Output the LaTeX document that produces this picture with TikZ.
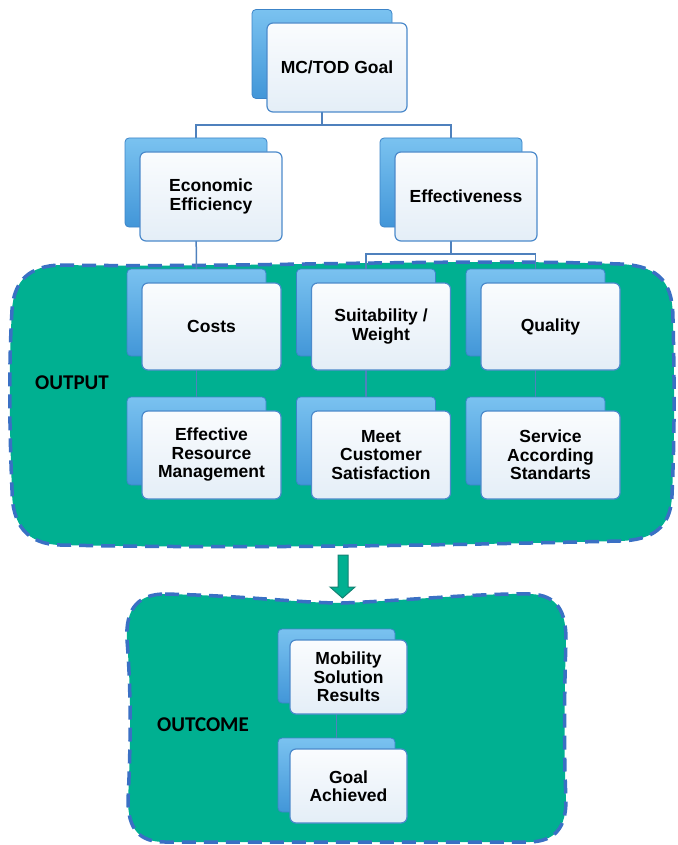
\documentclass[tikz,border=0pt]{standalone}
\usepackage{fontspec}
\setmainfont{Liberation Sans}
\newfontfamily\lblfont{Carlito}
\pgfdeclarelayer{blobs}
\pgfdeclarelayer{links}
\pgfsetlayers{blobs,links,main}
\definecolor{zonefill}{RGB}{0,176,145}
\definecolor{zoneedge}{RGB}{58,112,196}
\definecolor{linkblue}{RGB}{79,129,189}
\definecolor{cardedge}{RGB}{76,138,203}
\definecolor{cardtop}{RGB}{250,252,254}
\definecolor{cardbot}{RGB}{228,238,247}
\definecolor{shadowtop}{RGB}{122,194,240}
\definecolor{shadowbot}{RGB}{66,150,216}
\definecolor{shadowedge}{RGB}{60,132,200}
\definecolor{arrowedge}{RGB}{20,130,115}

% a card drawn in front of a raised blue card
\newcommand\tierbox[8]{%
  \node[backcard, minimum width=#4pt, minimum height=#5pt] (#1B) at (#2+#7,#3+#8) {};
  \node[frontcard, minimum width=#4pt, minimum height=#5pt] (#1) at (#2,#3) {#6};
}

\begin{document}
\begin{tikzpicture}[x=1pt,y=-1pt,
  backcard/.style={rectangle, rounded corners=4pt, draw=shadowedge, line width=0.8pt,
    top color=shadowtop, bottom color=shadowbot, inner sep=0pt},
  frontcard/.style={rectangle, rounded corners=6pt, draw=cardedge, line width=1.2pt,
    top color=cardtop, bottom color=cardbot, align=center, inner sep=2pt,
    font=\bfseries\fontsize{17.5}{18.5}\selectfont},
  link/.style={draw=linkblue, line width=1.5pt},
  zone/.style={fill=zonefill, draw=zoneedge, line width=3.5pt, dash pattern=on 14pt off 8pt},
  zonelabel/.style={font=\lblfont\bfseries\fontsize{21}{24}\selectfont, text=black, inner sep=0pt}
]
\useasboundingbox (0,0) rectangle (677,845);

% ---- cards ----
\tierbox{goal}{337}{67.5}{140}{89}{MC/TOD Goal}{-15}{-13.5}
\tierbox{econ}{211}{196.5}{142}{89}{Economic\\Efficiency}{-15}{-14}
\tierbox{eff}{466}{196.5}{142}{89}{Effectiveness}{-15}{-14}

\tierbox{costs}{211.5}{326.5}{139}{87}{Costs}{-15}{-14}
\tierbox{suit}{381}{326.5}{139}{87}{Suitability /\\Weight}{-15}{-14}
\tierbox{qual}{550.5}{326.5}{139}{87}{Quality}{-15}{-14}

\tierbox{erm}{211.5}{455}{139}{88}{Effective\\Resource\\Management}{-15}{-14}
\tierbox{mcs}{381}{455}{139}{88}{Meet\\Customer\\Satisfaction}{-15}{-14}
\tierbox{sas}{550.5}{455}{139}{88}{Service\\According\\Standarts}{-15}{-14}

\tierbox{msr}{348.5}{677}{117}{74}{Mobility\\Solution\\Results}{-12}{-11}
\tierbox{ach}{348.5}{786}{117}{74}{Goal\\Achieved}{-12}{-11}

% ---- zone labels ----
\node[zonelabel, anchor=west] (outlbl) at (35,383) {OUTPUT};
\node[zonelabel, anchor=west] (inlbl) at (157,725) {OUTCOME};

% ---- connectors ----
\begin{pgfonlayer}{links}
  \coordinate (j1) at (goalB.center |- 0,125);
  \draw[link] (goalB.center) -- (j1);
  \draw[link] (j1) -| (econB.center);
  \draw[link] (j1) -| (effB.center);
  \draw[link] (econB.center) -- (costsB.center);
  \coordinate (j2) at (effB.center |- 0,254);
  \draw[link] (effB.center) -- (j2);
  \draw[link] (j2) -| (suitB.center);
  \draw[link] (j2) -| (qualB.center);
  \draw[link] (costsB.center) -- (ermB.center);
  \draw[link] (suitB.center) -- (mcsB.center);
  \draw[link] (qualB.center) -- (sasB.center);
  \draw[link] (msrB.center) -- (achB.center);
\end{pgfonlayer}

% ---- output and outcome zones ----
\begin{pgfonlayer}{blobs}
  \path[zone] (60,265)
    .. controls (250,268) and (450,258) .. (620,264)
    .. controls (662,266) and (673,285) .. (673,320)
    .. controls (675,400) and (674,450) .. (672,495)
    .. controls (671,528) and (652,540) .. (620,541)
    .. controls (450,545) and (250,549) .. (60,545)
    .. controls (27,544) and (12,525) .. (12,490)
    .. controls (9,420) and (9,360) .. (12,310)
    .. controls (14,280) and (30,266) .. (60,265) -- cycle;
  \path[zone] (165,594)
    .. controls (250,596) and (300,603) .. (342,603)
    .. controls (400,601) and (480,593) .. (530,594)
    .. controls (558,595) and (566,612) .. (566,640)
    .. controls (564,700) and (564,760) .. (566,800)
    .. controls (566,828) and (555,841) .. (530,842)
    -- (165,842)
    .. controls (140,842) and (128,830) .. (128,800)
    .. controls (131,740) and (131,690) .. (127,640)
    .. controls (125,607) and (140,594) .. (165,594) -- cycle;
  % block arrow from output to outcome
  \draw[fill=zonefill, draw=arrowedge, line width=1pt, line join=miter]
    (338,555) -- (348,555) -- (348,587) -- (355,587) -- (342.5,598)
    -- (330,587) -- (338,587) -- cycle;
\end{pgfonlayer}
\end{tikzpicture}
\end{document}
